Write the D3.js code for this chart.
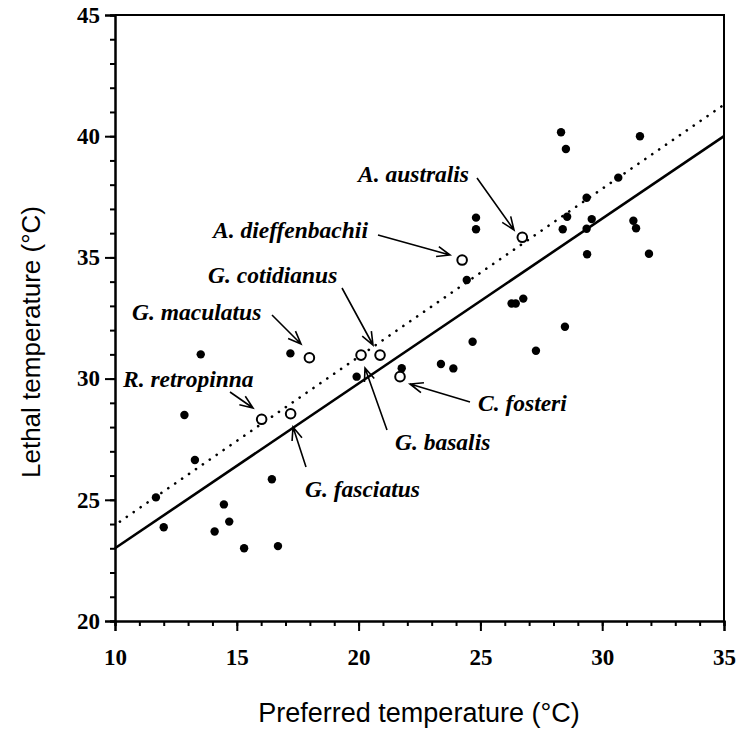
<!DOCTYPE html>
<html>
<head>
<meta charset="utf-8">
<script src="https://cdn.jsdelivr.net/npm/d3@7"></script>
<style>
  html, body { margin: 0; padding: 0; background: #fff; }
  svg { display: block; }
</style>
</head>
<body>
<svg id="chart" width="739" height="729"></svg>
<script>
// Preferred temperature (x) vs lethal temperature (y), °C
const xTicks = [10, 15, 20, 25, 30, 35];
const yTicks = [20, 25, 30, 35, 40, 45];

// Other species (filled dots)
const preferredOther = [11.68, 12.0, 12.85, 13.28, 13.52, 14.09, 14.47, 14.69, 15.30, 16.44,
  16.69, 17.2, 19.92, 21.77, 23.38, 23.89, 24.44, 24.68, 24.82, 24.82,
  26.28, 26.45, 26.76, 27.28, 28.31, 28.51, 28.38, 28.56, 28.47, 29.36,
  29.36, 29.57, 29.38, 30.66, 31.28, 31.39, 31.55, 31.92];
const lethalOther = [25.10, 23.87, 28.5, 26.64, 31.0, 23.69, 24.81, 24.10, 23.0, 25.85,
  23.09, 31.04, 30.08, 30.43, 30.6, 30.42, 34.07, 31.52, 36.64, 36.16,
  33.1, 33.1, 33.3, 31.15, 40.16, 39.47, 36.16, 36.68, 32.14, 37.46,
  36.18, 36.58, 35.13, 38.29, 36.51, 36.2, 40.0, 35.15];

// New Zealand species (open circles)
const species = ["R. retropinna", "G. fasciatus", "G. maculatus", "G. basalis",
  "G. cotidianus", "C. fosteri", "A. dieffenbachii", "A. australis"];
const preferredNZ = [16.02, 17.21, 17.98, 20.1, 20.88, 21.7, 24.25, 26.72];
const lethalNZ = [28.32, 28.55, 30.86, 30.97, 30.97, 30.08, 34.89, 35.83];

// Regression lines: [x, y] end points
const solidFit = [[10, 23.0], [35, 40.0]];
const dottedFit = [[10.2, 24.1], [35, 41.3]];

// Label placement (pixels): text start/baseline, arrow tail, arrow head
const labelLayout = {
  "A. australis":     { tx: 358, ty: 182, from: [477, 178], to: [514, 230] },
  "A. dieffenbachii": { tx: 213, ty: 238, from: [378, 235], to: [450, 255] },
  "G. cotidianus":    { tx: 208, ty: 283, from: [342, 288], to: [373, 345] },
  "G. maculatus":     { tx: 132, ty: 320, from: [272, 315], to: [301, 344] },
  "R. retropinna":    { tx: 123, ty: 387, from: [230, 392], to: [253, 408] },
  "G. fasciatus":     { tx: 305, ty: 497, from: [306, 467], to: [293, 427] },
  "G. basalis":       { tx: 395, ty: 450, from: [387, 430], to: [365, 368] },
  "C. fosteri":       { tx: 478, ty: 411, from: [470, 402], to: [410, 384] }
};

const svg = d3.select("#chart");
const x = d3.scaleLinear().domain([10, 35]).range([115, 724]);
const y = d3.scaleLinear().domain([20, 45]).range([621, 15]);

const serif = "'Liberation Serif', 'Times New Roman', serif";
const sans = "'Liberation Sans', Arial, sans-serif";

// Frame (top and right edges)
svg.append("path")
  .attr("d", `M${x(10)},${y(45)}H${x(35)}V${y(20)}`)
  .attr("fill", "none").attr("stroke", "#000").attr("stroke-width", 2);

// Minor ticks every 1 °C
const xAxisMinor = d3.axisBottom(x).tickValues(d3.range(10, 36, 1)).tickSize(5).tickFormat("");
const yAxisMinor = d3.axisLeft(y).tickValues(d3.range(20, 46, 1)).tickSize(5).tickFormat("");
const xAxis = d3.axisBottom(x).tickValues(xTicks).tickSize(10).tickPadding(18).tickFormat(d3.format("d"));
const yAxis = d3.axisLeft(y).tickValues(yTicks).tickSize(10).tickPadding(5).tickFormat(d3.format("d"));

function styleAxis(g) {
  g.select(".domain").attr("stroke", "#000").attr("stroke-width", 2);
  g.selectAll(".tick line").attr("stroke", "#000").attr("stroke-width", 2);
  g.selectAll(".tick text").attr("fill", "#000")
    .style("font-family", serif).style("font-size", "23px").style("font-weight", "bold");
}

svg.append("g").attr("transform", `translate(0,${y(20)})`).call(xAxisMinor).call(styleAxis);
svg.append("g").attr("transform", `translate(${x(10)},0)`).call(yAxisMinor).call(styleAxis);
svg.append("g").attr("transform", `translate(0,${y(20)})`).call(xAxis).call(styleAxis);
svg.append("g").attr("transform", `translate(${x(10)},0)`).call(yAxis).call(styleAxis);

// Axis titles
svg.append("text")
  .attr("x", 419).attr("y", 722).attr("text-anchor", "middle")
  .style("font-family", sans).style("font-size", "27px")
  .text("Preferred temperature (°C)");
svg.append("text")
  .attr("transform", "translate(40,342) rotate(-90)").attr("text-anchor", "middle")
  .style("font-family", sans).style("font-size", "26px")
  .text("Lethal temperature (°C)");

// Regression lines
const line = d3.line().x(d => x(d[0])).y(d => y(d[1]));
svg.append("path").datum(solidFit).attr("d", line)
  .attr("fill", "none").attr("stroke", "#000").attr("stroke-width", 2.6);
svg.append("path").datum(dottedFit).attr("d", line)
  .attr("fill", "none").attr("stroke", "#000").attr("stroke-width", 2.6)
  .attr("stroke-linecap", "round").attr("stroke-dasharray", "0.1 8.3");

// Filled dots
svg.append("g").selectAll("circle")
  .data(d3.range(preferredOther.length))
  .join("circle")
  .attr("cx", i => x(preferredOther[i]))
  .attr("cy", i => y(lethalOther[i]))
  .attr("r", 4.2).attr("fill", "#000");

// Open circles
svg.append("g").selectAll("circle")
  .data(d3.range(species.length))
  .join("circle")
  .attr("cx", i => x(preferredNZ[i]))
  .attr("cy", i => y(lethalNZ[i]))
  .attr("r", 4.8).attr("fill", "#fff").attr("stroke", "#000").attr("stroke-width", 2);

// Species labels with open-headed arrows
const ann = svg.append("g");
species.forEach(name => {
  const L = labelLayout[name];
  ann.append("text")
    .attr("x", L.tx).attr("y", L.ty)
    .style("font-family", serif).style("font-size", "23.5px")
    .style("font-style", "italic").style("font-weight", "bold")
    .text(name);
  const [x0, y0] = L.from, [x1, y1] = L.to;
  const a = Math.atan2(y1 - y0, x1 - x0);
  const h = 14, spread = 0.38;
  const p1 = [x1 - h * Math.cos(a - spread), y1 - h * Math.sin(a - spread)];
  const p2 = [x1 - h * Math.cos(a + spread), y1 - h * Math.sin(a + spread)];
  ann.append("path")
    .attr("d", `M${x0},${y0}L${x1},${y1}M${p1[0]},${p1[1]}L${x1},${y1}L${p2[0]},${p2[1]}`)
    .attr("fill", "none").attr("stroke", "#000").attr("stroke-width", 1.6);
});
</script>
</body>
</html>
